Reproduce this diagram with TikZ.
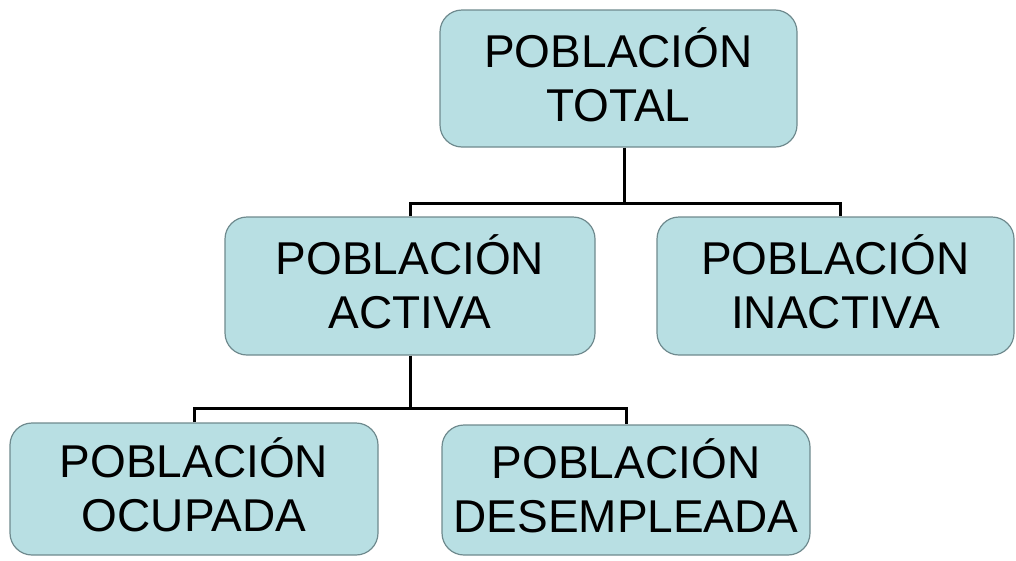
\documentclass[tikz,border=0pt]{standalone}
\usepackage{fontspec}
\setmainfont{Liberation Sans}
\definecolor{boxfill}{HTML}{B8DFE3}
\definecolor{boxline}{HTML}{6F8A8E}
\newcommand{\Pob}{POBLACI\smash{Ó}N}
\begin{document}
\begin{tikzpicture}[x=1pt,y=-1pt,
  popbox/.style={draw=boxline, line width=1.2pt, fill=boxfill, rounded corners=22pt,
    inner sep=0pt, align=center, font=\fontsize{46}{54}\selectfont},
  conn/.style={draw=black, line width=3pt}]
\useasboundingbox (0,0) rectangle (1016,560);
\node[popbox, minimum width=357pt, minimum height=137pt] (top) at (618.5,78.5) {\Pob\\TOTAL};
\node[popbox, minimum width=370pt, minimum height=138pt] (midL) at (410,286) {\Pob\\ACTIVA};
\node[popbox, minimum width=357pt, minimum height=138pt] (midR) at (835.5,286) {\Pob\\INACTIVA};
\node[popbox, minimum width=368pt, minimum height=132pt] (botL) at (194,489) {\Pob\\OCUPADA};
\node[popbox, minimum width=368pt, minimum height=130pt] (botR) at (626,490) {\Pob\\DESEMPLEADA};
\coordinate (j1) at (624,203);
\coordinate (j2) at (410,408);
\draw[conn] (top.south -| j1) -- (j1);
\draw[conn] (midL.north) |- (j1) -| ([xshift=5pt]midR.north);
\draw[conn] (midL.south) -- (j2);
\draw[conn] (botL.north) |- (j2) -| (botR.north);
\end{tikzpicture}
\end{document}
